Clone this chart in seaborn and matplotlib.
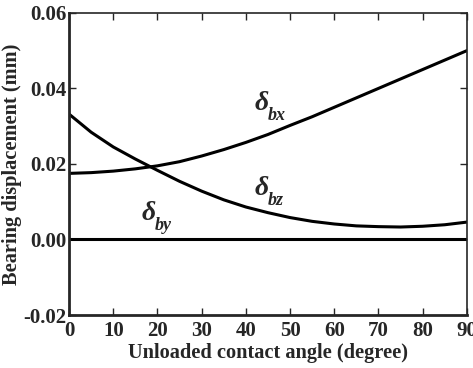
import numpy as np
import pandas as pd
import matplotlib
matplotlib.use("Agg")
import matplotlib.pyplot as plt
import seaborn as sns

angle = [0, 5, 10, 15, 20, 25, 30, 35, 40, 45, 50, 55, 60, 65, 70, 75, 80, 85, 90]
delta_bx = [0.0175, 0.0177, 0.0181, 0.0187, 0.0195, 0.0206, 0.0221, 0.0238, 0.0257, 0.0278,
            0.0302, 0.0325, 0.0350, 0.0375, 0.0400, 0.0425, 0.0450, 0.0475, 0.0500]
delta_bz = [0.0332, 0.0284, 0.0245, 0.0213, 0.0183, 0.0154, 0.0128, 0.0105, 0.0086, 0.0071,
            0.0058, 0.0048, 0.0041, 0.0036, 0.0034, 0.0033, 0.0035, 0.0039, 0.0046]
delta_by = [0.0] * len(angle)

xticks = [0, 10, 20, 30, 40, 50, 60, 70, 80, 90]
yticks = [-0.02, 0.00, 0.02, 0.04, 0.06]
ytick_labels = ["-0.02", "0.00", "0.02", "0.04", "0.06"]

# curve labels: (x, y, subscript)
curve_labels = [(42, 0.0343, "bx"), (42, 0.0118, "bz"), (16.5, 0.0052, "by")]

sns.set_style("ticks")
plt.rcParams["font.family"] = ["Liberation Serif", "DejaVu Serif"]
plt.rcParams["font.weight"] = "bold"

df = pd.DataFrame({
    "angle": angle * 3,
    "value": delta_bx + delta_bz + delta_by,
    "series": ["bx"] * len(angle) + ["bz"] * len(angle) + ["by"] * len(angle),
})

fig = plt.figure(figsize=(4.73, 3.68), dpi=100)
ax = fig.add_axes([0.146, 0.144, 0.841, 0.821])
sns.lineplot(data=df, x="angle", y="value", hue="series",
             palette={"bx": "black", "bz": "black", "by": "black"},
             linewidth=2.2, legend=False, ax=ax, sort=False)

ax.set_xlim(0, 90)
ax.set_ylim(-0.02, 0.06)
ax.set_xticks(xticks)
ax.set_xticklabels([str(t) for t in xticks])
ax.set_yticks(yticks)
ax.set_yticklabels(ytick_labels)
ax.tick_params(direction="in", length=5, width=1, top=True, right=True,
               labelsize=15)
ax.tick_params(axis="x", pad=4)
ax.tick_params(axis="y", pad=2)
for lbl in ax.get_xticklabels() + ax.get_yticklabels():
    lbl.set_fontweight("bold")
for side in ["left", "bottom"]:
    ax.spines[side].set_linewidth(2.0)
for side in ["top", "right"]:
    ax.spines[side].set_linewidth(1.2)
    ax.spines[side].set_visible(True)

ax.set_xlabel("Unloaded contact angle (degree)", fontsize=14.7, fontweight="bold", labelpad=2)
ax.set_ylabel("Bearing displacement (mm)", fontsize=14.7, fontweight="bold", labelpad=1)

for x, y, sub in curve_labels:
    ax.text(x, y, "\u03b4", fontsize=20, fontweight="bold", fontstyle="italic",
            ha="left", va="baseline")
    ax.annotate(sub, xy=(x, y), xytext=(13, -10), textcoords="offset pixels",
                fontsize=13, fontweight="bold", fontstyle="italic",
                ha="left", va="baseline")

fig.savefig("out.png", dpi=100)
